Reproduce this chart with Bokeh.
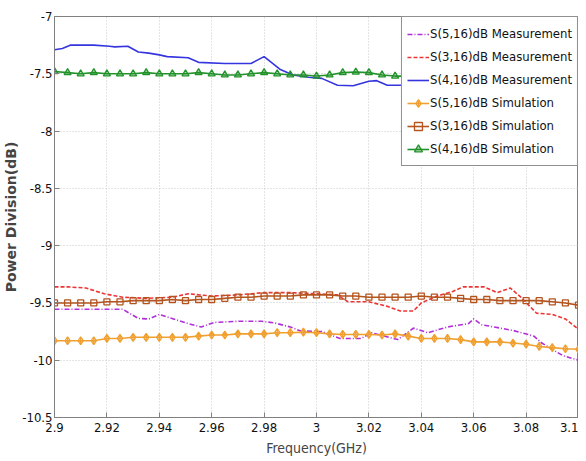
from bokeh.plotting import figure
from bokeh.models import Range1d, FixedTicker, Legend, LegendItem
from bokeh.embed import file_html
from bokeh.resources import INLINE

# ---------------- data ----------------
x_ticks = [2.9, 2.92, 2.94, 2.96, 2.98, 3.0, 3.02, 3.04, 3.06, 3.08, 3.1]
x_tick_labels = ["2.9", "2.92", "2.94", "2.96", "2.98", "3", "3.02", "3.04", "3.06", "3.08", "3.1"]
y_ticks = [-10.5, -10, -9.5, -9, -8.5, -8, -7.5, -7]
y_tick_labels = ["-10.5", "-10", "-9.5", "-9", "-8.5", "-8", "-7.5", "-7"]

# S(5,16) measurement
f_s516_meas = [2.900, 2.926, 2.932, 2.936, 2.940, 2.944, 2.951, 2.956, 2.961, 2.970,
               2.979, 2.984, 2.990, 2.994, 3.002, 3.009, 3.017, 3.021, 3.031, 3.037,
               3.0425, 3.050, 3.058, 3.060, 3.063, 3.075, 3.083, 3.086, 3.094, 3.100]
s516_meas = [-9.555, -9.555, -9.635, -9.64, -9.60, -9.63, -9.68, -9.71, -9.67, -9.66,
             -9.66, -9.675, -9.71, -9.745, -9.75, -9.81, -9.81, -9.76, -9.82, -9.72,
             -9.76, -9.71, -9.68, -9.64, -9.69, -9.74, -9.79, -9.85, -9.96, -10.00]

# S(3,16) measurement
f_s316_meas = [2.900, 2.905, 2.912, 2.919, 2.926, 2.935, 2.945, 2.951, 2.960, 2.970,
               2.980, 2.990, 3.000, 3.008, 3.012, 3.020, 3.027, 3.032, 3.037, 3.040,
               3.046, 3.052, 3.056, 3.064, 3.069, 3.074, 3.078, 3.084, 3.090, 3.095, 3.100]
s316_meas = [-9.36, -9.36, -9.37, -9.42, -9.45, -9.46, -9.45, -9.42, -9.44, -9.43,
             -9.41, -9.41, -9.42, -9.43, -9.49, -9.49, -9.53, -9.57, -9.57, -9.50,
             -9.44, -9.40, -9.36, -9.36, -9.41, -9.37, -9.45, -9.59, -9.60, -9.64, -9.73]

# S(4,16) measurement
f_s416_meas = [2.900, 2.903, 2.906, 2.915, 2.921, 2.923, 2.928, 2.932, 2.936, 2.940,
               2.943, 2.951, 2.955, 2.965, 2.975, 2.980, 2.986, 2.991, 2.997, 3.002,
               3.008, 3.014, 3.020, 3.023, 3.027, 3.032, 3.040, 3.050, 3.060, 3.070,
               3.080, 3.090, 3.097, 3.100]
s416_meas = [-7.29, -7.28, -7.25, -7.25, -7.26, -7.265, -7.26, -7.31, -7.32, -7.335,
             -7.35, -7.36, -7.40, -7.41, -7.41, -7.35, -7.46, -7.51, -7.53, -7.54,
             -7.60, -7.605, -7.565, -7.56, -7.60, -7.60, -7.60, -7.61, -7.62, -7.64,
             -7.66, -7.70, -7.75, -7.80]

# simulation frequencies
f_sim = [2.900, 2.905, 2.910, 2.915, 2.920, 2.925, 2.930, 2.935, 2.940, 2.945,
         2.950, 2.955, 2.960, 2.965, 2.970, 2.975, 2.980, 2.985, 2.990, 2.995,
         3.000, 3.005, 3.010, 3.015, 3.020, 3.025, 3.030, 3.035, 3.040, 3.045,
         3.050, 3.055, 3.060, 3.065, 3.070, 3.075, 3.080, 3.085, 3.090, 3.095, 3.100]

s516_sim = [-9.83, -9.83, -9.83, -9.83, -9.81, -9.81, -9.80, -9.80, -9.80, -9.80,
            -9.80, -9.79, -9.78, -9.78, -9.77, -9.77, -9.77, -9.76, -9.76, -9.755,
            -9.76, -9.77, -9.775, -9.775, -9.775, -9.78, -9.77, -9.79, -9.81, -9.81,
            -9.81, -9.82, -9.84, -9.84, -9.84, -9.85, -9.86, -9.88, -9.89, -9.90, -9.905]

s316_sim = [-9.50, -9.50, -9.50, -9.50, -9.49, -9.49, -9.48, -9.48, -9.48, -9.47,
            -9.48, -9.47, -9.47, -9.46, -9.45, -9.45, -9.44, -9.44, -9.44, -9.43,
            -9.43, -9.43, -9.44, -9.44, -9.45, -9.45, -9.45, -9.45, -9.44, -9.45,
            -9.45, -9.46, -9.47, -9.47, -9.48, -9.48, -9.48, -9.48, -9.49, -9.50, -9.52]

s416_sim = [-7.48, -7.49, -7.50, -7.49, -7.50, -7.50, -7.50, -7.49, -7.50, -7.50,
            -7.50, -7.49, -7.50, -7.51, -7.51, -7.50, -7.49, -7.50, -7.51, -7.51,
            -7.52, -7.51, -7.49, -7.485, -7.49, -7.51, -7.52, -7.52, -7.52, -7.53,
            -7.53, -7.54, -7.54, -7.55, -7.55, -7.56, -7.57, -7.58, -7.59, -7.60, -7.61]

# ---------------- figure ----------------
NARROW = "DejaVu Sans Condensed, Liberation Sans"

p = figure(width=578, height=460,
           x_range=Range1d(2.9, 3.1), y_range=Range1d(-10.5, -7),
           output_backend="svg", toolbar_location=None,
           min_border_left=53, min_border_right=0,
           min_border_top=16, min_border_bottom=43)
p.background_fill_color = "white"
p.border_fill_color = "white"
p.outline_line_color = "#808080"
p.outline_line_width = 1

p.xaxis.ticker = FixedTicker(ticks=x_ticks)
p.yaxis.ticker = FixedTicker(ticks=y_ticks)
p.xaxis.major_label_overrides = dict(zip(x_ticks, x_tick_labels))
p.yaxis.major_label_overrides = dict(zip(y_ticks, y_tick_labels))

for ax in (p.xaxis + p.yaxis):
    ax.axis_line_color = "#808080"
    ax.major_tick_line_color = "#808080"
    ax.major_tick_in = 5
    ax.major_tick_out = 0
    ax.minor_tick_line_color = None
    ax.major_label_text_font = NARROW
    ax.major_label_text_font_size = "13px"
    ax.major_label_text_color = "#111111"

p.xaxis.major_label_standoff = 5
p.yaxis.major_label_standoff = 2
p.xaxis.axis_label = "Frequency(GHz)"
p.xaxis.axis_label_text_font = NARROW
p.xaxis.axis_label_text_font_size = "14px"
p.xaxis.axis_label_text_font_style = "normal"
p.xaxis.axis_label_standoff = 5
p.yaxis.axis_label = "Power Division(dB)"
p.yaxis.axis_label_text_font = "DejaVu Sans"
p.yaxis.axis_label_text_font_size = "14px"
p.yaxis.axis_label_text_font_style = "bold"
p.yaxis.axis_label_standoff = 0

p.grid.grid_line_color = "#c8c8c8"
p.grid.grid_line_dash = "1 2"
p.grid.grid_line_width = 1

C_MAG = "#b030d8"
C_RED = "#ee3535"
C_BLUE = "#3535e0"
C_ORANGE = "#f0a030"
C_BROWN = "#b4541e"
C_GREEN = "#22922a"

r1 = p.line(f_s516_meas, s516_meas, line_color=C_MAG, line_width=1.6, line_dash="5 2 1 2")
r2 = p.line(f_s316_meas, s316_meas, line_color=C_RED, line_width=1.6, line_dash="4 2")
r3 = p.line(f_s416_meas, s416_meas, line_color=C_BLUE, line_width=1.6)

r4l = p.line(f_sim, s516_sim, line_color=C_ORANGE, line_width=1.6)
r4m = p.scatter(f_sim, s516_sim, marker="diamond_cross", size=8, line_color=C_ORANGE,
                fill_color=None, line_width=1.3)
r5l = p.line(f_sim, s316_sim, line_color=C_BROWN, line_width=1.6)
r5m = p.scatter(f_sim, s316_sim, marker="square", size=6, line_color=C_BROWN,
                fill_color=None, line_width=1.3)
r6l = p.line(f_sim, s416_sim, line_color=C_GREEN, line_width=1.6)
r6m = p.scatter(f_sim, s416_sim, marker="triangle", size=7, line_color=C_GREEN,
                fill_color=C_GREEN, fill_alpha=0.35, line_width=1.3)

legend = Legend(items=[
    LegendItem(label="S(5,16)dB Measurement", renderers=[r1]),
    LegendItem(label="S(3,16)dB Measurement", renderers=[r2]),
    LegendItem(label="S(4,16)dB Measurement", renderers=[r3]),
    LegendItem(label="S(5,16)dB Simulation", renderers=[r4l, r4m]),
    LegendItem(label="S(3,16)dB Simulation", renderers=[r5l, r5m]),
    LegendItem(label="S(4,16)dB Simulation", renderers=[r6l, r6m]),
], location="top_right")
legend.margin = 0
legend.padding = 5
legend.spacing = 0
legend.label_height = 23
legend.glyph_height = 20
legend.glyph_width = 22
legend.label_standoff = 1
legend.label_text_font = NARROW
legend.label_text_font_size = "13px"
legend.label_text_color = "#111111"
legend.border_line_color = "#222222"
legend.border_line_width = 1
legend.background_fill_color = "white"
legend.background_fill_alpha = 1.0
p.add_layout(legend)

open("out.html", "w").write(file_html(p, INLINE))
